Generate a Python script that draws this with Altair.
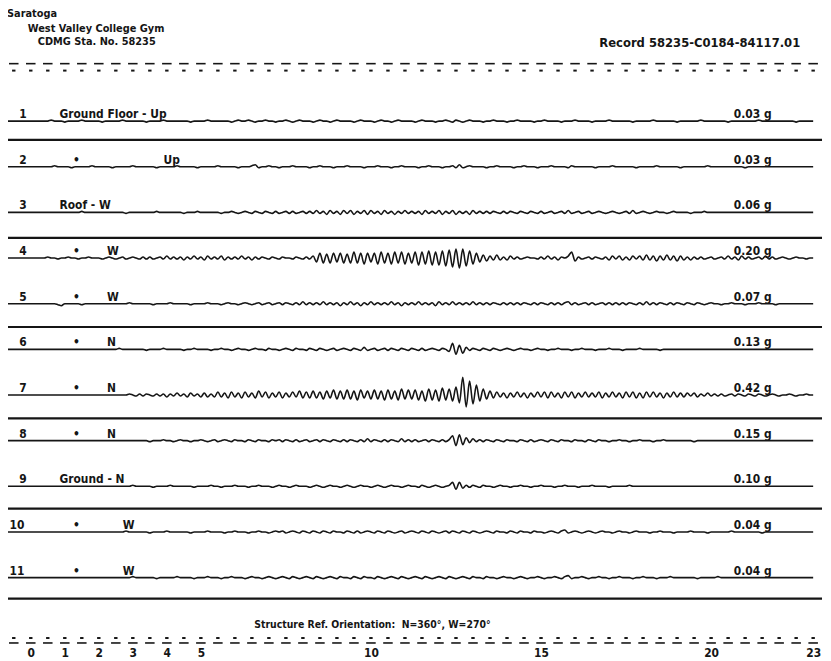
import altair as alt
import pandas as pd

FONT = "DejaVu Sans Condensed"
INK = "#151515"

# ---------------- text content ----------------
site = "Saratoga"
building = "West Valley College Gym"
station = "CDMG Sta. No. 58235"
record = "Record 58235-C0184-84117.01"
orientation = "Structure Ref. Orientation:\u00a0\u00a0N=360°, W=270°"

channels = [1, 2, 3, 4, 5, 6, 7, 8, 9, 10, 11]
locations = ["Ground Floor - Up", "", "Roof - W", "", "", "", "", "", "Ground - N", "", ""]
ditto = [False, True, False, True, True, True, True, True, False, True, True]
directions = ["", "Up", "", "W", "W", "N", "N", "N", "", "W", "W"]
peaks = ["0.03 g", "0.03 g", "0.06 g", "0.20 g", "0.07 g", "0.13 g",
         "0.42 g", "0.15 g", "0.10 g", "0.04 g", "0.04 g"]

time_labels = [0, 1, 2, 3, 4, 5, 10, 15, 20, 23]
timing_marks = [k * 0.5 for k in range(-1, 47)]   # half-second timing marks
separator_rows = [1.41, 3.56, 5.51, 7.51, 9.49, 11.46]

# ---------------- trace deflections (px), sampled every 0.1 s from t = -0.7 s ----------------
T0 = -0.7
DT = 0.1

trace_1 = [0,0,0,0,0,0,0,0,0,0, 0,0,0,1,0,0,0,-1,0,0, 0,0,1,0,0,0,0,0,-1,0, 0,0,0,0,1,0,0,0,0,0,
           0,-1,0,0,0,0,1,0,0,0, 0,0,0,0,-1,0,0,0,0,1, 0,0,0,0,0,0,-1,0,1,0, 0,1,0,-1,0,0,1,0,0,-1,
           0,0,1,0,-1,0,1,0,0,0, -1,0,1,0,0,-1,0,1,0,0, 0,0,-1,0,1,0,0,0,-1,0, 1,0,0,-1,0,1,0,0,0,0,
           -1,0,1,0,0,0,-1,0,0,1, 0,-1,1,0,-1,0,1,0,0,0, -1,0,0,1,0,0,0,-1,0,0, 1,0,0,0,0,-1,0,0,1,0,
           0,0,0,-1,0,0,0,1,0,0, 0,0,-1,0,0,0,0,1,0,0, 0,0,0,0,-1,0,0,0,0,0, 1,0,0,0,0,0,0,-1,0,0,
           0,0,0,0,1,0,0,0,0,0, 0,0,-1,0,0,0,0,0,0,0, 0,1,0,0,0,0,0,0,0,0, 0,0,-1,0,0,0,0,0]
trace_2 = [0,0,0,0,0,0,0,0,0,0, 0,0,0,0,1,0,0,0,0,-1, 0,0,0,0,0,1,0,0,0,0, 0,-1,0,0,0,0,0,1,0,0,
           0,0,0,0,-1,0,0,0,0,0, 1,0,0,0,0,0,-1,0,0,0, 0,0,1,0,0,0,0,0,-1,0, 0,0,1,2,-1,0,0,1,0,0,
           -1,0,0,0,1,0,0,0,0,-1, 0,0,1,0,0,0,-1,0,0,0, 1,0,0,0,0,-1,0,0,0,1, 0,0,0,-1,0,0,1,0,0,0,
           0,-1,0,0,1,0,0,0,-1,0, 0,1,-1,2,-1,0,1,0,0,0, 0,-1,0,0,1,0,0,0,0,-1, 0,0,1,0,0,0,-1,0,0,0,
           1,0,0,0,0,-1,1,0,0,0, 0,0,0,-1,0,0,0,0,1,0, 0,0,0,0,0,-1,0,0,0,0, 0,1,0,0,0,0,0,0,-1,0,
           0,0,0,0,0,0,1,0,0,0, 0,0,0,0,0,0,0,-1,0,0, 0,0,0,0,0,0,0,0,0,0, 0,0,0,0,0,0,0,0]
trace_3 = [0,0,0,0,0,0,0,0,0,0, 0,0,0,0,0,0,0,0,0,0, 0,0,1,0,0,0,0,0,0,0, 0,0,0,0,0,-1,0,0,0,0,
           0,0,0,0,1,0,0,0,0,0, 0,0,-1,0,0,0,1,0,0,0, 0,0,0,-1,0,0,1,0,-1,0, 1,0,-1,1,0,-1,1,0,-1,1,
           -1,0,1,-1,1,-1,0,1,-1,1, -1,2,-1,1,-2,2,-1,1,-2,2, -1,2,-2,1,-1,2,-2,2,-1,1, -2,2,-1,1,-2,1,-1,2,-1,1,
           -1,1,-2,2,-1,1,-1,2,-2,1, -1,2,-2,1,-1,1,-2,2,-1,1, -1,1,-1,1,0,-1,1,-1,1,0, -1,1,0,-1,1,0,-1,1,-1,0,
           1,-1,0,1,-1,2,-1,0,1,-1, 0,1,-1,0,1,0,-1,0,1,0, -1,0,1,-1,2,-1,0,1,0,-1, 0,1,0,0,-1,0,1,0,0,0,
           0,-1,0,0,0,1,0,0,0,0, 0,0,0,0,0,0,0,0,0,0, 0,0,0,0,0,0,0,0,0,0, 0,0,0,0,0,0,0,0]
trace_4 = [0,0,0,0,0,0,0,0,0,0, 0,0,1,0,0,-1,0,0,1,0, 0,-1,0,0,1,0,0,0,-1,0, 1,0,-1,0,1,-1,0,1,0,-1,
           1,-1,1,-1,0,1,-1,2,-1,1, -1,1,-2,1,-1,2,-1,1,-2,2, -1,1,-1,2,-2,1,-1,1,-1,2, -1,1,-2,1,-1,1,0,-1,1,0,
           -1,1,0,0,-1,1,0,-1,1,-1, 2,-4,5,-5,4,-5,5,-4,5,-5, 4,-5,6,-5,5,-6,5,-4,5,-6, 6,-5,5,-6,6,-5,6,-6,5,-5,
           6,-7,6,-6,7,-7,6,-7,7,-8, 8,-9,9,-10,9,-8,7,-6,5,-4, 3,-3,2,-2,3,-2,1,-2,2,-1, 1,-1,0,1,0,0,-1,1,-1,2,
           -1,1,-2,1,0,2,6,-3,1,-1, 0,1,-1,1,0,-1,1,-2,2,-1, 2,-2,1,-2,2,-1,2,-2,3,-2, 2,-3,2,-2,3,-2,2,-3,2,-2,
           1,-2,1,-1,1,-1,0,1,-1,0, 1,-1,2,-1,1,-2,2,-1,1,-1, 0,1,-1,2,-1,1,-1,0,1,0, -1,0,1,0,0,-1,0,0]
trace_5 = [0,0,0,0,0,0,0,0,0,0, 0,0,0,0,0,-1,-2,0,0,0, 0,0,-1,0,0,0,0,0,0,0, 0,0,0,0,0,0,1,0,0,0,
           0,0,0,-1,0,0,0,0,1,0, 0,0,0,0,-1,0,0,0,0,1, 0,0,0,-1,0,1,0,0,-1,0, 1,0,-1,0,1,-1,0,1,-1,0,
           1,-1,1,0,-1,1,-1,2,-1,1, -1,1,-1,2,-1,1,-1,1,-2,1, -1,2,-1,1,-2,1,-1,2,-1,1, -1,1,-1,2,-1,1,-2,1,-1,1,
           -1,2,-1,1,-1,1,-2,2,-1,1, -1,2,-1,1,-1,1,-1,2,-1,1, -1,1,-1,1,0,-1,1,-1,1,-1, 1,-1,1,0,-1,1,-1,1,0,-1,
           1,-1,1,-1,1,2,-1,1,-1,0, 1,-1,1,-1,0,1,-1,1,-1,1, -1,1,-1,1,0,-1,1,-1,2,-1, 1,-1,1,0,-1,1,-1,1,0,-1,
           1,0,-1,1,0,-1,0,1,0,0, -1,0,0,1,0,0,0,-1,0,0, 0,1,0,0,0,0,-1,0,0,0, 0,0,0,0,0,0,0,0]
trace_6 = [0,0,0,0,0,0,0,0,0,0, 0,0,0,0,0,0,0,0,0,0, 0,0,0,0,0,0,0,0,0,0, 0,0,0,1,0,0,0,0,0,0,
           0,-1,0,0,0,0,1,0,0,0, 0,0,-1,0,0,1,0,0,0,0, -1,0,0,1,0,0,-1,0,1,0, 0,-1,0,1,0,0,-1,1,0,0,
           -1,0,1,0,-1,1,0,0,-1,1, 0,-1,1,0,-1,0,1,-1,0,1, 0,-1,1,0,-1,2,-1,0,1,-1, 0,1,-1,1,0,-1,1,0,-1,1,
           0,-1,1,-1,0,1,0,-1,1,0, -2,6,-5,4,-4,2,-1,1,0,-1, 1,0,-1,1,0,-1,0,1,0,-1, 0,1,0,0,-1,0,1,0,0,-1,
           0,0,1,0,0,0,-1,0,0,1, 0,0,0,-1,0,0,0,1,0,0, 0,-1,0,0,0,0,1,0,0,0, 0,0,-1,0,0,0,0,0,0,0,
           0,0,0,0,0,0,0,0,0,0, 0,0,0,0,0,0,0,0,0,0, 0,0,0,0,0,0,0,0,0,0, 0,0,0,0,0,0,0,0]
trace_7 = [0,0,0,0,0,0,0,0,0,0, 0,0,0,0,0,0,0,0,0,0, 0,0,0,0,0,0,0,0,0,0, 0,0,0,0,0,0,1,0,-1,1,
           -1,1,0,-1,1,-1,1,-2,1,-1, 2,-1,1,-2,2,-1,1,-2,2,-2, 1,-2,3,-2,2,-3,3,-2,2,-3, 3,-2,2,-3,4,-2,3,-3,2,-2,
           3,-3,2,-2,3,-2,4,-3,3,-3, 4,-3,3,-4,4,-3,5,-4,4,-4, 5,-4,4,-5,5,-3,4,-4,5,-4, 4,-5,5,-4,4,-5,6,-4,5,-4,
           5,-5,4,-6,6,-5,5,-6,7,-5, 6,-6,8,-8,18,-12,14,-9,10,-6, 6,-4,4,-3,3,-2,2,-3,2,-2, 3,-2,2,-3,2,-2,3,-2,3,-3,
           3,-2,2,-3,3,-2,3,-3,2,-2, 3,-2,2,-2,3,-3,2,-2,3,-2, 2,-3,3,-2,3,-3,2,-3,3,-2, 3,-2,2,-3,2,-2,3,-2,2,-2,
           2,-1,2,-2,1,-1,2,-1,1,-1, 1,-1,0,1,-1,1,0,-1,1,0, -1,1,0,-1,0,1,0,-1,0,0, 1,0,-1,0,0,1,0,0]
trace_8 = [0,0,0,0,0,0,0,0,0,0, 0,0,0,0,0,0,0,0,0,0, 0,0,0,0,0,0,0,0,0,0, 0,0,0,0,0,0,0,0,0,0,
           0,0,-1,0,0,0,1,0,0,-1, 0,1,0,0,-1,0,0,1,0,-1, 0,1,-1,0,1,0,-1,1,0,0, -1,1,0,-1,1,0,0,-1,1,0,
           1,-1,1,0,-1,1,-1,0,1,-1, 0,1,-1,1,0,-1,1,0,-1,1, -1,1,0,-1,1,-1,2,-1,1,0, -1,1,-1,1,0,-1,2,-1,1,-1,
           1,-1,0,1,-1,1,0,-1,1,-1, 1,5,-5,6,-4,3,-2,2,-1,1, -1,1,0,-1,1,0,-1,1,0,0, -1,1,0,-1,1,-1,0,1,0,-1,
           1,0,-1,1,0,0,-1,1,0,0, -1,1,0,-1,1,0,0,-1,0,0, 1,0,0,-1,0,0,1,0,0,0, -1,0,0,1,0,0,0,0,0,0,
           0,0,-1,0,0,0,0,0,0,0, 0,0,0,0,0,0,0,0,0,0, 0,0,0,0,0,0,0,0,0,0, 0,0,0,0,0,0,0,0]
trace_9 = [0,0,0,0,0,0,0,0,0,0, 0,0,0,0,0,0,0,0,0,0, 0,0,0,0,0,0,0,0,0,0, 0,0,0,0,0,0,0,1,0,0,
           0,0,0,-1,0,0,0,0,1,0, 0,0,0,0,0,-1,0,0,0,0, 1,0,0,-1,0,0,0,1,0,0, 0,-1,0,0,1,0,0,0,-1,0,
           1,0,0,-1,0,1,0,0,0,-1, 0,1,0,-1,0,1,0,0,-1,0, 1,0,-1,0,1,0,0,-1,0,1, 0,-1,0,1,0,0,-1,0,1,0,
           0,-1,1,0,-1,0,1,0,-1,0, 1,4,-3,4,-2,1,-1,1,0,-1, 1,0,0,-1,0,1,0,0,-1,0, 0,1,0,0,-1,0,0,1,0,0,
           0,-1,0,0,1,0,0,0,-1,0, 0,0,1,0,0,0,0,-1,0,0, 0,0,0,1,0,0,0,0,0,0, 0,0,0,0,0,0,0,0,0,0,
           0,0,0,0,0,0,0,0,0,0, 0,0,0,0,0,0,0,0,0,0, 0,0,0,0,0,0,0,0,0,0, 0,0,0,0,0,0,0,0]
trace_10 = [0,0,0,0,0,0,0,0,0,0, 0,0,0,0,0,0,0,0,0,0, 0,0,0,0,0,0,0,0,0,0, 0,0,0,0,0,1,0,0,0,0,
            0,0,-1,0,0,0,0,1,0,0, 0,0,0,0,-1,0,0,0,0,1, 0,0,0,0,-1,0,0,1,0,0, 0,-1,0,0,1,0,0,-1,0,1,
            0,1,-1,0,1,0,-1,1,0,-1, 1,0,-1,1,0,-1,1,0,0,-1, 1,0,-1,1,-1,0,1,0,-1,1, 0,-1,1,0,-1,0,1,-1,0,1,
            0,-1,1,0,-1,1,0,-1,0,1, -1,1,0,-1,1,0,-1,1,0,-1, 0,1,0,-1,1,0,0,-1,1,0, -1,1,0,0,-1,1,0,0,-1,0,
            1,0,-1,1,2,-1,0,1,0,-1, 0,1,0,-1,0,1,0,0,-1,0, 1,0,0,-1,0,1,0,0,0,-1, 0,0,1,0,0,0,-1,0,0,0,
            0,1,0,0,0,0,-1,0,0,0, 0,0,0,1,0,0,0,0,0,0, 0,0,-1,0,0,0,0,0,0,0, 0,0,0,0,0,0,0,0]
trace_11 = [0,0,0,0,0,0,0,0,0,0, 0,0,0,0,0,0,0,0,0,0, 0,0,0,0,0,0,0,0,0,0, 0,0,0,0,0,0,0,1,0,0,
            0,0,0,0,-1,0,0,0,0,0, 1,0,0,0,0,-1,0,0,0,1, 0,0,0,-1,0,0,1,0,0,0, -1,0,1,0,0,-1,0,1,0,-1,
            0,1,0,-1,1,0,-1,0,1,0, -1,1,0,-1,0,1,0,-1,1,0, 0,-1,1,0,-1,1,0,0,-1,1, 0,-1,0,1,0,-1,1,0,-1,0,
            1,0,-1,1,0,-1,0,1,0,-1, 1,0,-1,0,1,0,-1,1,0,0, -1,1,0,0,-1,0,1,0,0,-1, 0,1,0,-1,0,0,1,0,-1,0,
            0,1,0,-1,1,2,-1,0,0,1, 0,-1,0,0,1,0,0,-1,0,0, 1,0,0,0,-1,0,0,1,0,0, 0,-1,0,0,0,1,0,0,0,0,
            0,0,0,-1,0,0,0,0,0,1, 0,0,0,0,0,0,0,0,0,0, 0,0,0,0,0,0,0,0,0,0, 0,0,0,0,0,0,0,0]

traces = [trace_1, trace_2, trace_3, trace_4, trace_5, trace_6,
          trace_7, trace_8, trace_9, trace_10, trace_11]

# ---------------- layout constants ----------------
W, H = 820, 641
PX_PER_ROW = 46.1
x_scale = alt.Scale(domain=[-0.6696, 23.202], nice=False, zero=False)
y_scale = alt.Scale(domain=[-1.4078, 12.4967], reverse=True, nice=False, zero=False)

# ---------------- tables ----------------
recs = []
for ch, tr in zip(channels, traces):
    for i, v in enumerate(tr):
        recs.append({"row": ch, "t": round(T0 + DT * i, 2), "defl": v})
trace_df = pd.DataFrame(recs)

traces_layer = alt.Chart(trace_df).transform_calculate(
    yy=f"datum.row - datum.defl / {PX_PER_ROW}"
).mark_line(stroke=INK, strokeWidth=1.6, strokeJoin="round", interpolate="monotone").encode(
    x=alt.X("t:Q", scale=x_scale,
            axis=alt.Axis(values=time_labels, ticks=False, domain=False, grid=False,
                          labelFlush=False, labelOverlap=False, labelFont=FONT,
                          labelFontWeight="bold", labelFontSize=12, labelColor=INK,
                          labelPadding=2, title=None)),
    y=alt.Y("yy:Q", scale=y_scale, axis=None),
    detail="row:N",
    order="t:Q",
)

sep_layer = alt.Chart(pd.DataFrame({"y": separator_rows})).mark_rule(
    stroke=INK, strokeWidth=2.2
).encode(y=alt.Y("y:Q", scale=y_scale), x=alt.value(-2), x2=alt.value(W + 2))

tm = pd.DataFrame({"t": timing_marks})


def tick_row(half_len, py, sw):
    return alt.Chart(tm).transform_calculate(
        a=f"datum.t - {half_len}", b=f"datum.t + {half_len}"
    ).mark_rule(stroke=INK, strokeWidth=sw).encode(
        x=alt.X("a:Q", scale=x_scale), x2="b:Q", y=alt.value(py)
    )


top_dash = tick_row(0.14, 53, 1.6)
top_dot = tick_row(0.05, 60, 2.0)
bot_dot = tick_row(0.05, 633, 2.0)
bot_dash = tick_row(0.14, 638, 1.6)


def label(text, x, y, align="left", size=12):
    return alt.Chart(pd.DataFrame({"s": [text]})).mark_text(
        font=FONT, fontWeight="bold", fontSize=size, color=INK, align=align, baseline="middle"
    ).encode(text="s:N", x=alt.value(x), y=alt.value(y))


head = [
    label(site, -1, 3, size=11),
    label(building, 20, 18, size=11),
    label(station, 30, 31, size=11),
    label(record, 800, 32, align="right", size=13),
    label(orientation, 368, 620, align="center", size=10.5),
]

lab = pd.DataFrame({
    "row": channels,
    "num": [str(c) for c in channels],
    "loc": locations,
    "ditto": ["•" if d else "" for d in ditto],
    "dir": directions,
    "peak": peaks,
})


def row_text(field, x, align="left", filt=None):
    base = alt.Chart(lab)
    if filt is not None:
        base = base.transform_filter(filt)
    return base.mark_text(
        font=FONT, fontWeight="bold", fontSize=12, color=INK, align=align,
        baseline="alphabetic", dy=-3
    ).encode(text=f"{field}:N", x=alt.value(x), y=alt.Y("row:Q", scale=y_scale))


row_layers = [
    row_text("num", 15, "center", "datum.row < 10"),
    row_text("num", 9, "center", "datum.row >= 10"),
    row_text("loc", 52),
    row_text("ditto", 69, "center"),
    row_text("dir", 100, "left", "datum.row != 2 && datum.row < 10"),
    row_text("dir", 157, "left", "datum.row == 2"),
    row_text("dir", 116, "left", "datum.row >= 10"),
    row_text("peak", 733),
]

chart = alt.layer(
    traces_layer, sep_layer, top_dash, top_dot, bot_dot, bot_dash, *head, *row_layers
).properties(
    width=W, height=H,
    autosize=alt.AutoSizeParams(type="none"),
    padding={"left": 0, "top": 0, "right": 3, "bottom": 12},
    background="white",
).configure_view(stroke=None)

chart.save("out.html", embed_options={"renderer": "svg", "actions": False})
